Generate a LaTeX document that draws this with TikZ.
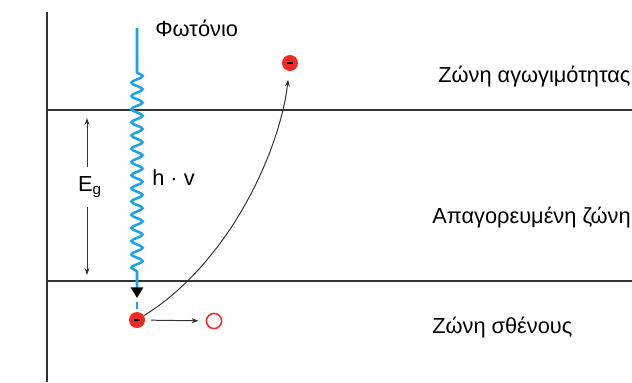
\documentclass[tikz,border=0pt]{standalone}
\usepackage{fontspec}
\setmainfont{Liberation Sans}
\usepackage{xcolor}
\usetikzlibrary{arrows.meta,positioning,decorations.pathmorphing}
\definecolor{PhotonBlue}{HTML}{1AA3E8}
\definecolor{ElecRed}{HTML}{EE2A24}
\definecolor{BandGray}{HTML}{333333}

\begin{document}
\begin{tikzpicture}[
  x=0.025cm, y=-0.025cm,
  font=\fontsize{15.5}{18}\selectfont,
  band/.style={draw=BandGray, line width=1.4pt},
  blueline/.style={draw=PhotonBlue, line width=1.8pt},
  photon/.style={blueline, decorate, decoration={snake, amplitude=0.14cm, segment length=0.33cm, pre length=1.1cm, post length=0.35cm}},
  electron/.style={circle, fill=ElecRed, minimum size=0.4cm, inner sep=0pt},
  hole/.style={circle, draw=ElecRed, line width=1.1pt, fill=white, minimum size=0.38cm, inner sep=0pt},
  lbl/.style={anchor=west, inner sep=0pt},
  arrow/.style={-{Stealth[length=5pt, width=3.5pt]}, draw=BandGray, line width=0.7pt}
]
\useasboundingbox (0,0) rectangle (632,382);

% bands
\draw[band] (47,12) -- (47,382);
\draw[band] (47,110) -- (632,110);
\draw[band] (47,281) -- (632,281);

\node[lbl] (cb) at (438,77) {Ζώνη αγωγιμότητας};
\node[lbl] (gap) at (432,218) {Απαγορευμένη ζώνη};
\node[lbl] (vb) at (432,328) {Ζώνη σθένους};

% photon
\coordinate (phtop) at (137,28);
\coordinate (phend) at (137,287);
\coordinate (tip) at (137,298);
\node[lbl] (phlbl) at (155,28) {Φωτόνιο};
\node[lbl] (hv) at (152,178) {h · v};

\node[electron] (e1) at (137,320) {\rule{4pt}{1.3pt}};
\node[electron] (e2) at (290,63) {\rule{4pt}{1.3pt}};
\node[hole] (h1) at (214,321) {};

\draw[photon] (phtop) -- (phend);
\draw[blueline, -{Triangle[length=7.5pt, width=8.5pt, fill=black, color=black]}] (phend) -- (tip);
\draw[blueline, shorten <=3pt, shorten >=2pt] (tip) -- (e1);

% transitions
\draw[arrow, shorten >=6pt] (e1) .. controls (230,262) and (280,150) .. (e2);
\draw[arrow, shorten <=4pt, shorten >=5pt] (e1) -- (h1);

% band gap
\node[minimum height=1cm, inner sep=0pt] (eg) at (90,187) {E\textsubscript{g}};
\coordinate (egtop) at (87,118);
\coordinate (egbot) at (87,275);
\draw[arrow] (eg.north -| egtop) -- (egtop);
\draw[arrow] (eg.south -| egbot) -- (egbot);
\end{tikzpicture}
\end{document}
